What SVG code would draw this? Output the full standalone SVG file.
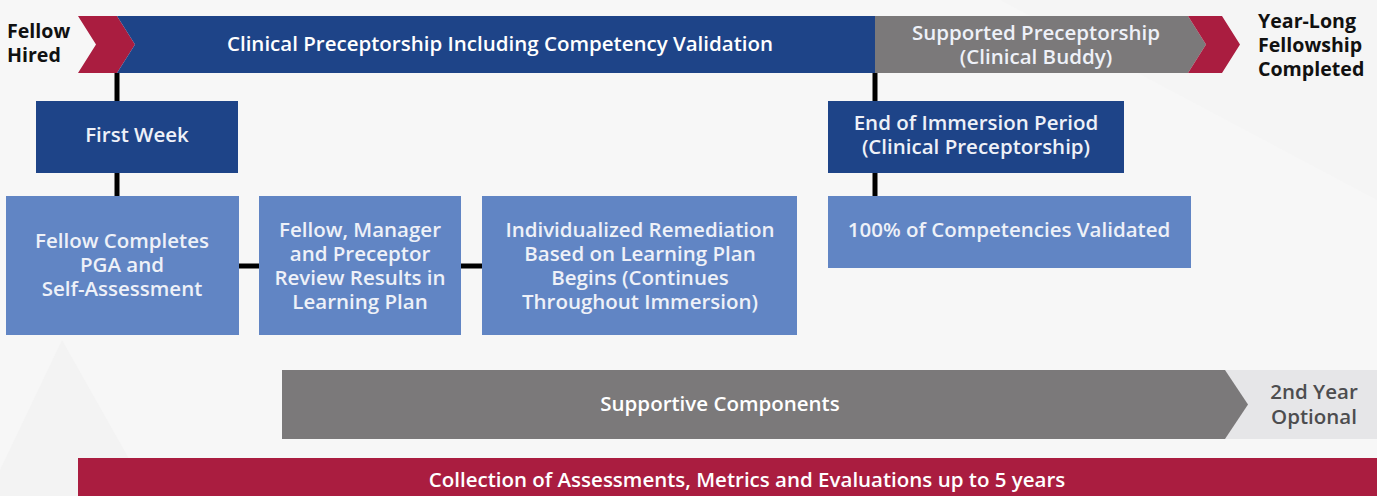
<svg xmlns="http://www.w3.org/2000/svg" width="1377" height="496" viewBox="0 0 1377 496">
<style>
text{font-family:"Open Sans","Liberation Sans",sans-serif;font-weight:600;font-size:20.5px;text-anchor:middle}
.w{fill:#ffffff}
.lw{fill:#eef1f8}
.k{fill:#111111;font-weight:700;font-size:19.6px;text-anchor:start}
.dg{fill:#4d4d4f}
.dark{fill:#1e4488}
.light{fill:#6185c4}
.gray{fill:#7b797a}
.red{fill:#aa1d40}
.conn{stroke:#000;stroke-width:5;fill:none}
</style>
<rect width="1377" height="496" fill="#f7f7f7"/>
<polygon points="62,340 0,470 0,496 150,496" fill="#f3f3f3"/>
<polygon points="1000,0 1377,0 1377,200" fill="#f5f5f5"/>
<g id="connectors">
<line class="conn" x1="117" y1="73" x2="117" y2="101"/>
<line class="conn" x1="117" y1="173" x2="117" y2="196"/>
<line class="conn" x1="875" y1="73" x2="875" y2="101"/>
<line class="conn" x1="875" y1="173" x2="875" y2="196"/>
<line class="conn" x1="239" y1="266" x2="259" y2="266"/>
<line class="conn" x1="461" y1="266" x2="482" y2="266"/>
</g>
<g id="fellow-hired">
<text class="k" x="7" y="38">Fellow</text>
<text class="k" x="7" y="62">Hired</text>
</g>
<g id="start-chevron">
<polygon class="red" points="78,16 117,16 135,44.5 117,73 78,73 96,44.5"/>
</g>
<g id="clinical-preceptorship">
<polygon class="dark" points="117,16 875,16 875,73 117,73 135,44.5"/>
<text class="w" x="500" y="51">Clinical Preceptorship Including Competency Validation</text>
</g>
<g id="supported-preceptorship">
<polygon class="gray" points="875,16 1188,16 1206,44.5 1188,73 875,73"/>
<text class="lw" x="1036" y="40">Supported Preceptorship</text>
<text class="lw" x="1036" y="64">(Clinical Buddy)</text>
</g>
<g id="end-chevron">
<polygon class="red" points="1188,16 1222,16 1240,44.5 1222,73 1188,73 1206,44.5"/>
</g>
<g id="year-long">
<text class="k" x="1258" y="28">Year-Long</text>
<text class="k" x="1258" y="52">Fellowship</text>
<text class="k" x="1258" y="76">Completed</text>
</g>
<g id="first-week">
<rect class="dark" x="36" y="101" width="202" height="72"/>
<text class="lw" x="137" y="142">First Week</text>
</g>
<g id="end-of-immersion">
<rect class="dark" x="828" y="101" width="296" height="72"/>
<text class="lw" x="976" y="130">End of Immersion Period</text>
<text class="lw" x="976" y="154">(Clinical Preceptorship)</text>
</g>
<g id="fellow-completes">
<rect class="light" x="6" y="196" width="233" height="139"/>
<text class="lw" x="122" y="248">Fellow Completes</text>
<text class="lw" x="122" y="272">PGA and</text>
<text class="lw" x="122" y="296">Self-Assessment</text>
</g>
<g id="review-results">
<rect class="light" x="259" y="196" width="202" height="139"/>
<text class="lw" x="360" y="237">Fellow, Manager</text>
<text class="lw" x="360" y="261">and Preceptor</text>
<text class="lw" x="360" y="285">Review Results in</text>
<text class="lw" x="360" y="309">Learning Plan</text>
</g>
<g id="remediation">
<rect class="light" x="482" y="196" width="315" height="139"/>
<text class="lw" x="640" y="237">Individualized Remediation</text>
<text class="lw" x="640" y="261">Based on Learning Plan</text>
<text class="lw" x="640" y="285">Begins (Continues</text>
<text class="lw" x="640" y="309">Throughout Immersion)</text>
</g>
<g id="competencies-validated">
<rect class="light" x="828" y="196" width="363" height="72"/>
<text class="lw" x="1009" y="237">100% of Competencies Validated</text>
</g>
<g id="second-year">
<rect x="1225" y="370" width="152" height="69" fill="#e6e6e8"/>
<text class="dg" x="1314" y="399">2nd Year</text>
<text class="dg" x="1314" y="424">Optional</text>
</g>
<g id="supportive-components">
<polygon class="gray" points="282,370 1225,370 1248,404.5 1225,439 282,439"/>
<text class="w" x="720" y="411">Supportive Components</text>
</g>
<g id="collection">
<rect class="red" x="78" y="458" width="1299" height="38"/>
<text class="w" x="747" y="487">Collection of Assessments, Metrics and Evaluations up to 5 years</text>
</g>
</svg>
